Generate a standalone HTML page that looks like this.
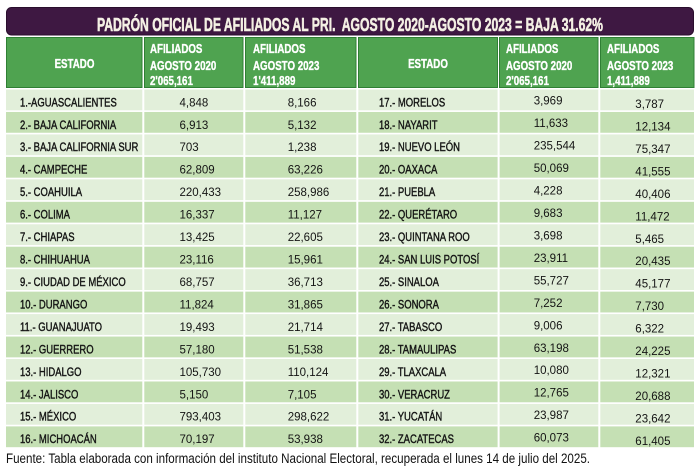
<!DOCTYPE html>
<html><head><meta charset="utf-8"><style>
html,body{margin:0;padding:0;background:#fff;}
svg{display:block;}
text{font-family:"Liberation Sans",Arial,sans-serif;}
.t{font-weight:bold;font-size:18.7px;fill:#f4f0e4;stroke:#f4f0e4;stroke-width:0.6px;white-space:pre;}
.h{font-weight:bold;font-size:12.5px;fill:#fff;stroke:#fff;stroke-width:0.35px;}
.n{font-size:12px;fill:#141414;stroke:#141414;stroke-width:0.4px;}
.v{font-size:11.5px;fill:#141414;}
.f{font-size:13.5px;fill:#111;}
</style></head><body>
<svg width="700" height="471" viewBox="0 0 700 471" xmlns="http://www.w3.org/2000/svg">
<rect width="700" height="471" fill="#fff"/>
<rect x="6.5" y="7.5" width="687" height="27.5" rx="5" fill="#3e1842" stroke="#2a0e2d" stroke-width="1"/>
<text class="t" x="97" y="31" textLength="506" lengthAdjust="spacingAndGlyphs">PADRÓN OFICIAL DE AFILIADOS AL PRI.  AGOSTO 2020-AGOSTO 2023 = BAJA 31.62%</text>
<g fill="#4fa350" stroke="#2f7f34" stroke-width="1">
<rect x="6.5" y="37.5" width="135.5" height="50"/>
<rect x="144.5" y="37.5" width="98.5" height="50"/>
<rect x="245.5" y="37.5" width="110.5" height="50"/>
<rect x="358.5" y="37.5" width="139" height="50"/>
<rect x="499.5" y="37.5" width="98.5" height="50"/>
<rect x="600.5" y="37.5" width="93.5" height="50"/>
</g>
<g transform="scale(0.78,1)" class="h">
<text x="95.5" y="68" text-anchor="middle">ESTADO</text>
<text x="548.7" y="68" text-anchor="middle">ESTADO</text>
<text x="192.3" y="53">AFILIADOS</text>
<text x="192.3" y="70">AGOSTO 2020</text>
<text x="192.3" y="85">2'065,161</text>
<text x="324.4" y="53">AFILIADOS</text>
<text x="324.4" y="70">AGOSTO 2023</text>
<text x="324.4" y="85">1'411,889</text>
<text x="648.7" y="53">AFILIADOS</text>
<text x="648.7" y="70">AGOSTO 2020</text>
<text x="648.7" y="85">2'065,161</text>
<text x="778.2" y="53">AFILIADOS</text>
<text x="778.2" y="70">AGOSTO 2023</text>
<text x="778.2" y="85">1,411,889</text>
</g>
<g>
<g fill="#e2efda">
<rect x="6" y="89.5" width="688" height="20.8"/>
<rect x="6" y="134.42" width="688" height="20.8"/>
<rect x="6" y="179.34" width="688" height="20.8"/>
<rect x="6" y="224.26" width="688" height="20.8"/>
<rect x="6" y="269.18" width="688" height="20.8"/>
<rect x="6" y="314.1" width="688" height="20.8"/>
<rect x="6" y="359.02" width="688" height="20.8"/>
<rect x="6" y="403.94" width="688" height="20.8"/>
</g>
<g fill="#c5e0b4">
<rect x="6" y="111.96" width="688" height="20.8"/>
<rect x="6" y="156.88" width="688" height="20.8"/>
<rect x="6" y="201.8" width="688" height="20.8"/>
<rect x="6" y="246.72" width="688" height="20.8"/>
<rect x="6" y="291.64" width="688" height="20.8"/>
<rect x="6" y="336.56" width="688" height="20.8"/>
<rect x="6" y="381.48" width="688" height="20.8"/>
<rect x="6" y="426.4" width="688" height="20.8"/>
</g>
<g fill="#fff">
<rect x="142.3" y="89" width="2" height="360"/>
<rect x="243.3" y="89" width="2" height="360"/>
<rect x="356.3" y="89" width="2" height="360"/>
<rect x="497.6" y="89" width="2" height="360"/>
<rect x="598.3" y="89" width="2" height="360"/>
</g>
</g>
<g transform="scale(0.79,1)" class="n">
<text x="25.3" y="106.3">1.-AGUASCALIENTES</text>
<text x="25.3" y="128.8">2.- BAJA CALIFORNIA</text>
<text x="25.3" y="151.2">3.- BAJA CALIFORNIA SUR</text>
<text x="25.3" y="173.7">4.- CAMPECHE</text>
<text x="25.3" y="196.1">5.- COAHUILA</text>
<text x="25.3" y="218.6">6.- COLIMA</text>
<text x="25.3" y="241.1">7.- CHIAPAS</text>
<text x="25.3" y="263.5">8.- CHIHUAHUA</text>
<text x="25.3" y="286.0">9.- CIUDAD DE MÉXICO</text>
<text x="25.3" y="308.4">10.- DURANGO</text>
<text x="25.3" y="330.9">11.- GUANAJUATO</text>
<text x="25.3" y="353.4">12.- GUERRERO</text>
<text x="25.3" y="375.8">13.- HIDALGO</text>
<text x="25.3" y="398.3">14.- JALISCO</text>
<text x="25.3" y="420.7">15.- MÉXICO</text>
<text x="25.3" y="443.2">16.- MICHOACÁN</text>
</g>
<g transform="scale(0.79,1)" class="n">
<text x="479.7" y="106.3">17.- MORELOS</text>
<text x="479.7" y="128.8">18.- NAYARIT</text>
<text x="479.7" y="151.2">19.- NUEVO LEÓN</text>
<text x="479.7" y="173.7">20.- OAXACA</text>
<text x="479.7" y="196.1">21.- PUEBLA</text>
<text x="479.7" y="218.6">22.- QUERÉTARO</text>
<text x="479.7" y="241.1">23.- QUINTANA ROO</text>
<text x="479.7" y="263.5">24.- SAN LUIS POTOSÍ</text>
<text x="479.7" y="286.0">25.- SINALOA</text>
<text x="479.7" y="308.4">26.- SONORA</text>
<text x="479.7" y="330.9">27.- TABASCO</text>
<text x="479.7" y="353.4">28.- TAMAULIPAS</text>
<text x="479.7" y="375.8">29.- TLAXCALA</text>
<text x="479.7" y="398.3">30.- VERACRUZ</text>
<text x="479.7" y="420.7">31.- YUCATÁN</text>
<text x="479.7" y="443.2">32.- ZACATECAS</text>
</g>
<g class="v">
<text x="179.5" y="106.3">4,848</text>
<text x="179.5" y="128.8">6,913</text>
<text x="179.5" y="151.2">703</text>
<text x="179.5" y="173.7">62,809</text>
<text x="179.5" y="196.1">220,433</text>
<text x="179.5" y="218.6">16,337</text>
<text x="179.5" y="241.1">13,425</text>
<text x="179.5" y="263.5">23,116</text>
<text x="179.5" y="286.0">68,757</text>
<text x="179.5" y="308.4">11,824</text>
<text x="179.5" y="330.9">19,493</text>
<text x="179.5" y="353.4">57,180</text>
<text x="179.5" y="375.8">105,730</text>
<text x="179.5" y="398.3">5,150</text>
<text x="179.5" y="420.7">793,403</text>
<text x="179.5" y="443.2">70,197</text>
</g>
<g class="v">
<text x="287.7" y="106.3">8,166</text>
<text x="287.7" y="128.8">5,132</text>
<text x="287.7" y="151.2">1,238</text>
<text x="287.7" y="173.7">63,226</text>
<text x="287.7" y="196.1">258,986</text>
<text x="287.7" y="218.6">11,127</text>
<text x="287.7" y="241.1">22,605</text>
<text x="287.7" y="263.5">15,961</text>
<text x="287.7" y="286.0">36,713</text>
<text x="287.7" y="308.4">31,865</text>
<text x="287.7" y="330.9">21,714</text>
<text x="287.7" y="353.4">51,538</text>
<text x="287.7" y="375.8">110,124</text>
<text x="287.7" y="398.3">7,105</text>
<text x="287.7" y="420.7">298,622</text>
<text x="287.7" y="443.2">53,938</text>
</g>
<g class="v">
<text x="533.7" y="104.7">3,969</text>
<text x="533.7" y="127.2">11,633</text>
<text x="533.7" y="149.6">235,544</text>
<text x="533.7" y="172.1">50,069</text>
<text x="533.7" y="194.5">4,228</text>
<text x="533.7" y="217.0">9,683</text>
<text x="533.7" y="239.5">3,698</text>
<text x="533.7" y="261.9">23,911</text>
<text x="533.7" y="284.4">55,727</text>
<text x="533.7" y="306.8">7,252</text>
<text x="533.7" y="329.3">9,006</text>
<text x="533.7" y="351.8">63,198</text>
<text x="533.7" y="374.2">10,080</text>
<text x="533.7" y="396.7">12,765</text>
<text x="533.7" y="419.1">23,987</text>
<text x="533.7" y="441.6">60,073</text>
</g>
<g class="v">
<text x="635.3" y="108.0">3,787</text>
<text x="635.3" y="130.5">12,134</text>
<text x="635.3" y="152.9">75,347</text>
<text x="635.3" y="175.4">41,555</text>
<text x="635.3" y="197.8">40,406</text>
<text x="635.3" y="220.3">11,472</text>
<text x="635.3" y="242.8">5,465</text>
<text x="635.3" y="265.2">20,435</text>
<text x="635.3" y="287.7">45,177</text>
<text x="635.3" y="310.1">7,730</text>
<text x="635.3" y="332.6">6,322</text>
<text x="635.3" y="355.1">24,225</text>
<text x="635.3" y="377.5">12,321</text>
<text x="635.3" y="400.0">20,688</text>
<text x="635.3" y="422.4">23,642</text>
<text x="635.3" y="444.9">61,405</text>
</g>
<text class="f" x="6" y="463" textLength="584" lengthAdjust="spacingAndGlyphs">Fuente: Tabla elaborada con información del instituto Nacional Electoral, recuperada el lunes 14 de julio del 2025.</text>
</svg>
</body></html>
